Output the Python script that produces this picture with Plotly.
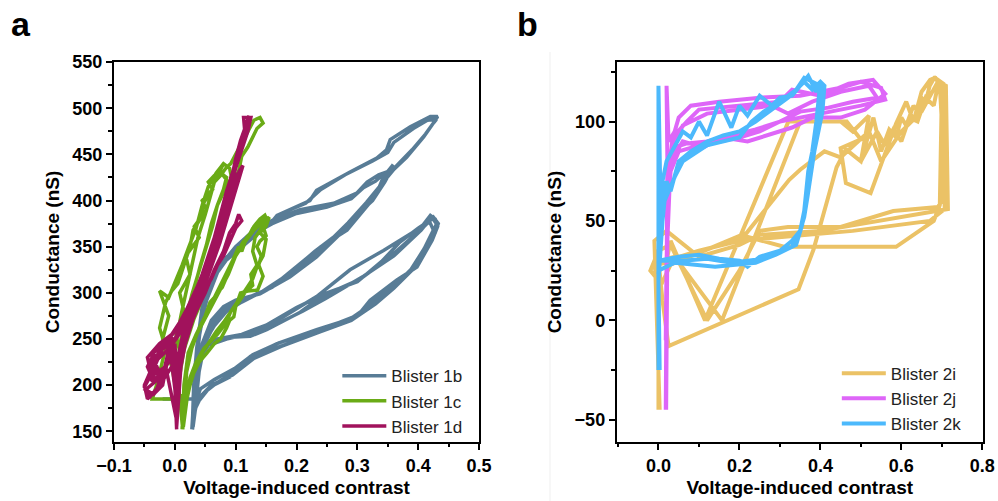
import plotly.graph_objects as go

# ---------------- Panel a data ----------------
b1b_x = [0.028,0.031,0.036,0.045,0.060,0.080,0.100,0.140,0.189,0.233,0.272,0.305,0.332,0.359,0.381,0.409,0.423,0.432,0.420,0.387,0.354,0.348,0.332,0.288,0.233,0.222,0.168,0.157,0.130,0.107,0.085,0.058,0.045,0.036,0.031,0.029,
         0.030,0.033,0.040,0.052,0.070,0.095,0.125,0.160,0.200,0.245,0.285,0.315,0.340,0.365,0.390,0.412,0.425,0.430,0.415,0.392,0.360,0.350,0.325,0.280,0.240,0.215,0.175,0.150,0.125,0.100,0.075,0.055,0.042,0.034,0.030,
         -0.020,0.031,0.036,0.046,0.062,0.085,0.110,0.140,0.175,0.206,0.240,0.283,0.305,0.330,0.343,0.359,0.352,0.335,0.316,0.299,0.261,0.206,0.162,0.130,0.100,0.075,0.055,0.042,0.034,
         0.033,0.040,0.050,0.070,0.095,0.125,0.160,0.195,0.230,0.270,0.300,0.325,0.345,0.355,0.345,0.330,0.310,0.290,0.250,0.200,0.160,0.125,0.095,0.070,0.050,0.038,0.032,
         0.028,0.031,0.036,0.058,0.091,0.124,0.168,0.233,0.299,0.321,0.365,0.398,0.423,0.432,0.428,0.420,0.398,0.354,0.305,0.244,0.206,0.151,0.124,0.091,0.047,0.036,0.032,
         0.030,0.034,0.045,0.070,0.100,0.135,0.178,0.233,0.290,0.330,0.360,0.392,0.415,0.428,0.433,0.425,0.410,0.392,0.343,0.288,0.233,0.178,0.124,0.085,0.055,0.040,0.033,
         0.029,0.035,0.060,0.095,0.130,0.175,0.230,0.280,0.315,0.350,0.385,0.410,0.425,0.418,0.400,0.370,0.340,0.300,0.250,0.200,0.150,0.110,0.070,0.045,0.034,0.030,
         0.032,0.042,0.065,0.098,0.128,0.172,0.236,0.302,0.325,0.368,0.395,0.420,0.430,0.422,0.405,0.360,0.310,0.248,0.210,0.155,0.120,0.088,0.050,0.038,0.031]
b1b_y = [152,185,210,245,270,285,292,299,317,339,364,390,411,433,447,469,482,491,491,480,466,455,446,431,411,400,384,375,362,350,339,314,285,240,200,160,
         155,190,220,252,275,288,296,306,325,350,376,398,418,438,455,472,484,488,487,478,463,452,443,428,412,397,386,372,358,345,330,305,270,225,185,
         185,185,200,240,262,280,290,300,315,332,350,368,385,405,426,439,432,428,420,408,397,390,379,368,350,330,300,262,215,
         170,215,248,270,286,295,306,325,345,365,385,400,420,432,430,421,414,402,393,386,375,362,345,322,288,245,190,
         152,165,180,198,209,231,245,260,274,292,314,328,357,372,380,384,365,339,315,297,279,260,253,252,245,234,200,
         155,175,190,203,215,233,243,256,270,288,305,326,350,365,375,382,372,366,346,325,296,274,256,250,243,228,190,
         152,183,200,211,229,242,256,268,284,303,322,348,368,378,370,355,334,312,300,284,265,255,250,241,205,155,
         178,196,206,218,233,246,259,276,292,312,330,355,375,382,368,340,318,294,280,262,255,251,244,230,160]

b1c_x = [0.012,0.015,0.022,0.035,0.050,0.058,0.065,0.080,0.085,0.095,0.105,0.110,0.118,0.125,0.130,0.140,0.148,0.152,0.145,0.150,0.140,0.135,0.142,0.138,0.145,0.136,0.120,0.108,0.100,0.097,0.090,0.085,0.075,0.065,0.053,0.040,0.031,0.025,0.020,0.015,
         0.014,0.018,0.028,0.040,0.055,0.070,0.078,0.090,0.100,0.112,0.122,0.128,0.138,0.146,0.150,0.142,0.132,0.128,0.135,0.125,0.128,0.115,0.105,0.092,0.085,0.070,0.060,0.048,0.035,0.025,0.018,
         0.004,-0.015,-0.037,-0.030,-0.022,-0.015,-0.025,-0.015,-0.005,0.005,0.015,0.025,0.030,0.042,0.048,0.060,0.065,0.075,0.085,0.092,0.100,0.110,0.120,0.130,0.140,0.145,0.135,0.125,0.120,0.110,0.105,0.095,0.092,0.085,0.075,0.065,0.055,0.048,0.040,0.031,0.020,0.015,0.008,0.004,
         0.005,-0.005,-0.020,-0.010,-0.025,-0.010,0.000,0.012,0.022,0.035,0.045,0.055,0.068,0.080,0.090,0.095,0.090,0.080,0.072,0.062,0.052,0.045,0.035,0.022,0.012,0.006,
         0.013,0.020,0.032,0.048,0.062,0.075,0.088,0.100,0.115,0.130,0.145,0.155,0.150,0.140,0.150,0.145,0.135,0.128,0.118,0.108,0.095,0.080,0.068,0.055,0.042,0.030,0.020,
         0.006,0.000,0.010,0.020,0.030,0.038,0.050,0.058,0.065,0.075,0.085,0.080,0.070,0.060,0.052,0.042,0.032,0.020,0.010,0.005,
         0.010,0.002,0.015,0.008,0.025,0.018,0.040,0.032,0.052,0.045,0.062,0.055,0.072,0.066,0.080,0.074,0.088,0.070,0.062,0.050,0.040,0.028,0.018,0.008]
b1c_y = [152,200,235,255,275,290,295,315,320,335,350,345,360,365,372,380,384,378,372,362,356,350,340,330,318,303,302,300,285,274,270,262,250,245,235,225,213,200,185,160,
         155,210,240,262,282,300,306,325,340,355,362,370,376,382,377,370,360,345,330,320,308,300,290,280,268,255,248,240,225,208,180,
         185,185,185,200,220,240,262,290,302,310,330,350,368,380,398,410,420,427,436,440,450,462,475,487,490,484,478,465,458,448,432,420,408,390,372,350,325,303,285,271,250,238,210,185,
         185,220,250,275,302,295,310,330,348,370,395,415,430,440,435,420,400,385,365,340,318,298,278,255,230,200,
         152,220,250,270,288,305,320,340,355,368,376,382,372,365,358,340,328,315,305,295,282,268,258,245,232,215,185,
         190,240,275,305,335,360,385,405,420,430,425,412,395,375,352,330,305,278,250,215,
         230,255,280,300,320,340,360,372,390,400,412,420,432,428,440,432,420,395,372,345,322,298,270,240]

b1d_x = [0.003,0.000,0.005,0.015,0.025,0.040,0.055,0.065,0.075,0.085,0.095,0.105,0.115,0.113,0.125,0.120,0.110,0.100,0.090,0.080,0.070,0.058,0.045,0.030,0.015,0.000,-0.015,-0.035,-0.040,-0.050,-0.045,-0.030,-0.020,-0.010,0.000,0.005,0.003,
         0.010,0.020,0.035,0.050,0.065,0.080,0.090,0.100,0.105,0.110,0.100,0.090,0.080,0.070,0.060,0.045,0.030,0.015,0.000,-0.020,-0.030,-0.040,-0.050,-0.040,-0.025,-0.010,0.000,0.005,
         0.008,0.018,0.030,0.045,0.058,0.068,0.078,0.088,0.095,0.100,0.092,0.085,0.078,0.068,0.058,0.045,0.030,0.018,0.005,-0.010,-0.030,-0.045,-0.035,-0.020,-0.005,0.004,
         0.005,0.012,0.022,0.035,0.050,0.062,0.072,0.082,0.092,0.100,0.108,0.116,0.122,0.118,0.112,0.104,0.096,0.088,0.078,0.066,0.052,0.038,0.022,0.008,-0.005,-0.025,-0.045,-0.038,-0.015,0.002,
         0.006,0.015,0.028,0.040,0.052,0.064,0.074,0.084,0.094,0.102,0.098,0.088,0.080,0.070,0.060,0.048,0.036,0.024,0.012,0.000,-0.012,-0.028,-0.042,-0.030,-0.048,-0.035,-0.020,-0.008,0.004,
         0.010,0.022,0.034,0.046,0.058,0.070,0.080,0.090,0.098,0.106,0.112,0.104,0.094,0.084,0.074,0.062,0.050,0.038,0.026,0.014,0.002,-0.010,-0.022,-0.035,-0.028,-0.040,-0.020,-0.005,0.003]
b1d_y = [152,200,230,260,285,310,340,360,385,410,430,455,475,490,490,475,455,435,410,390,368,345,320,295,275,260,245,235,215,200,185,195,215,230,245,200,155,
         220,255,280,300,325,345,365,375,385,378,370,355,340,330,315,300,285,270,250,240,225,210,198,188,200,215,225,180,
         215,250,278,305,335,360,385,410,430,440,425,405,385,365,340,318,298,280,262,250,240,220,205,215,230,170,
         215,245,272,300,330,352,375,398,420,445,465,480,492,480,462,445,425,400,378,355,330,305,285,268,255,245,230,210,220,165,
         205,240,268,292,318,342,366,390,412,430,420,400,380,358,336,315,296,278,262,248,238,228,212,205,195,190,200,240,175,
         228,258,282,306,330,352,372,394,414,432,438,420,398,376,354,332,310,292,276,262,250,244,238,228,218,205,210,252,170]

# ---------------- Panel b data ----------------
b2i_x = [0.000,0.000,-0.020,0.000,0.030,0.120,0.200,0.250,0.320,0.450,0.580,0.690,0.700,0.700,0.695,0.683,0.670,0.660,0.650,0.640,0.630,0.612,0.600,0.587,0.570,0.550,0.531,0.500,0.463,0.440,0.383,0.346,0.025,0.010,0.000,
         0.040,0.157,0.350,0.465,0.500,0.450,0.463,0.524,0.587,0.612,0.630,0.650,0.671,0.683,0.704,0.707,0.670,0.480,0.300,0.200,0.100,0.020,
         0.030,0.115,0.321,0.450,0.480,0.520,0.500,0.540,0.560,0.580,0.600,0.620,0.640,0.660,0.680,0.690,0.700,0.695,0.680,0.587,0.310,0.220,0.150,0.050,-0.010,0.000,
         0.030,0.218,0.323,0.350,0.410,0.450,0.520,0.550,0.600,0.650,0.690,0.710,0.715,0.600,0.400,0.250,0.200,0.100,0.020,-0.010,0.003]
b2i_y = [-45,20,25,35,38,0,25,45,47,47,55,57,60,100,118,122.5,118,110,112,105,108,98,102,92,96,85,102,80,86,77,35.6,15.6,-13,10,30,
         32,0,100,100,91,86.6,69,64,99,110,100,115,121,122,119,56,50,45,42,40,35,30,
         40,0,100,100,95,103,80,95,88,96,90,102,100,112,108,118,115,58,50,37,37,42,38,30,28,15,
         28,44,70.7,75.8,85,82,95,80,95,105,120,118,56,52,45,43,38,32,45,40,-45]

b2j_x = [0.018,0.020,0.020,0.022,0.020,0.025,0.040,0.050,0.080,0.150,0.250,0.350,0.450,0.500,0.550,0.560,0.500,0.400,0.300,0.250,0.200,0.150,0.100,0.050,0.030,0.025,0.020,0.018,
         0.022,0.030,0.060,0.120,0.200,0.280,0.320,0.380,0.450,0.520,0.540,0.480,0.420,0.350,0.300,0.240,0.180,0.120,0.070,0.040,0.025,0.020,
         0.024,0.035,0.070,0.100,0.200,0.300,0.330,0.400,0.470,0.530,0.560,0.510,0.450,0.380,0.330,0.280,0.220,0.160,0.110,0.060,0.030,0.022,0.019]
b2j_y = [-45,0,40,80,118,90,95,102,108,110,112,113,117,120,117,111,108,104,100,95,92,90,88,85,75,60,30,-10,
         50,85,98,104,106,108,104,110,115,118,112,110,107,105,100,96,93,90,89,87,70,20,
         70,92,100,106,108,110,116,113,119,121,114,106,102,102,97,94,90,92,87,90,80,40,-45]

b2k_x = [0.000,0.000,0.005,0.000,0.050,0.100,0.150,0.200,0.220,0.250,0.300,0.330,0.350,0.360,0.365,0.370,0.380,0.385,0.390,0.395,0.400,0.390,0.370,0.350,0.330,0.300,0.280,0.250,0.220,0.200,0.180,0.150,0.120,0.100,0.080,0.060,0.040,0.020,0.010,0.000,0.000,
         0.060,0.120,0.180,0.220,0.260,0.300,0.340,0.355,0.362,0.370,0.378,0.388,0.395,0.402,0.400,0.380,0.360,0.340,0.300,0.260,0.230,0.200,0.160,0.120,0.090,0.060,0.040,0.025,0.015,0.005,0.000,
         0.040,0.090,0.140,0.190,0.240,0.290,0.330,0.350,0.360,0.368,0.375,0.385,0.395,0.405,0.410,0.400,0.380,0.360,0.320,0.280,0.240,0.200,0.160,0.120,0.080,0.050,0.030,0.020,0.010,0.000,0.003]
b2k_y = [-25,118,60,30,32,33,31,30,27,32,35,40,45,55,65,75,85,95,100,110,120,115,123,118,113,112,108,113,103,108,97,110,93,100,92,95,88,80,70,50,30,
         30,31,29,30,31,34,38,48,58,70,80,90,100,112,118,120,122,116,110,105,100,92,90,88,84,80,72,65,60,45,25,
         29,28,27,28,29,33,37,45,52,62,72,85,95,105,118,120,116,120,112,106,100,95,93,90,85,80,65,70,50,20,-25]

names_a = ["Blister 1b", "Blister 1c", "Blister 1d"]
colors_a = ["#587c96", "#6aab16", "#a1125c"]
names_b = ["Blister 2i", "Blister 2j", "Blister 2k"]
colors_b = ["#ebc266", "#de66f8", "#4cb9fc"]

FONT = "Liberation Sans"
fig = go.Figure()

for nm, col, xs, ys in zip(names_a, colors_a, [b1b_x, b1c_x, b1d_x], [b1b_y, b1c_y, b1d_y]):
    fig.add_trace(go.Scatter(x=xs, y=ys, mode="lines", name=nm,
                             line=dict(color=col, width=3.5), xaxis="x", yaxis="y",
                             legend="legend"))
for nm, col, xs, ys in zip(names_b, colors_b, [b2i_x, b2j_x, b2k_x], [b2i_y, b2j_y, b2k_y]):
    fig.add_trace(go.Scatter(x=xs, y=ys, mode="lines", name=nm,
                             line=dict(color=col, width=4), xaxis="x2", yaxis="y2",
                             legend="legend2"))

tickfont = dict(family=FONT, size=18, color="black", weight="bold")
titlefont = dict(family=FONT, size=19, color="black", weight="bold")

def ax(**kw):
    d = dict(showline=True, linecolor="black", linewidth=2, mirror=True,
             ticks="outside", ticklen=6, tickwidth=1.5, tickcolor="black",
             showgrid=False, zeroline=False, tickfont=tickfont, automargin=False)
    d.update(kw)
    return d

fig.update_layout(
    width=998, height=501,
    margin=dict(l=0, r=0, t=0, b=0),
    paper_bgcolor="white", plot_bgcolor="white",
    showlegend=True,
    xaxis=ax(domain=[0.1142, 0.48], range=[-0.1, 0.5], dtick=0.1, tick0=0, tickformat=".1f",
             minor=dict(ticks="outside", ticklen=3.5, tickwidth=1.5, dtick=0.05, tickcolor="black"),
             title=dict(text="Voltage-induced contrast", font=titlefont, standoff=6), anchor="y"),
    yaxis=ax(domain=[0.1178, 0.876], range=[138.4, 550], dtick=50, tick0=0,
             minor=dict(ticks="outside", ticklen=3.5, tickwidth=1.5, dtick=25, tickcolor="black"),
             title=dict(text="Conductance (nS)", font=titlefont, standoff=8), anchor="x"),
    xaxis2=ax(domain=[0.618, 0.9847], range=[-0.103, 0.801], dtick=0.2, tick0=0, tickformat=".1f",
              minor=dict(ticks="outside", ticklen=3.5, tickwidth=1.5, dtick=0.1, tickcolor="black"),
              title=dict(text="Voltage-induced contrast", font=titlefont, standoff=6), anchor="y2"),
    yaxis2=ax(domain=[0.1178, 0.876], range=[-61.2, 129.9], dtick=50, tick0=0,
              minor=dict(ticks="outside", ticklen=3.5, tickwidth=1.5, dtick=25, tickcolor="black"),
              title=dict(text="Conductance (nS)", font=titlefont, standoff=8), anchor="x2"),
    legend=dict(x=0.338, y=0.285, xanchor="left", yanchor="top", bgcolor="rgba(0,0,0,0)",
                font=dict(family=FONT, size=17, color="#222"), itemwidth=44,
                tracegroupgap=0),
    legend2=dict(x=0.8385, y=0.29, xanchor="left", yanchor="top", bgcolor="rgba(0,0,0,0)",
                 font=dict(family=FONT, size=17, color="#222"), itemwidth=44,
                 tracegroupgap=0),
    annotations=[
        dict(text="a", x=21/998, y=1-24/501, xref="paper", yref="paper", showarrow=False,
             font=dict(family=FONT, size=34, color="black", weight="bold"), xanchor="center", yanchor="middle"),
        dict(text="b", x=527/998, y=1-24/501, xref="paper", yref="paper", showarrow=False,
             font=dict(family=FONT, size=34, color="black", weight="bold"), xanchor="center", yanchor="middle"),
    ],
    shapes=[dict(type="line", xref="paper", yref="paper", x0=550/998, x1=550/998, y0=0, y1=1-52/501,
                 line=dict(color="#efefef", width=1))],
)

fig.write_html("out.html")
